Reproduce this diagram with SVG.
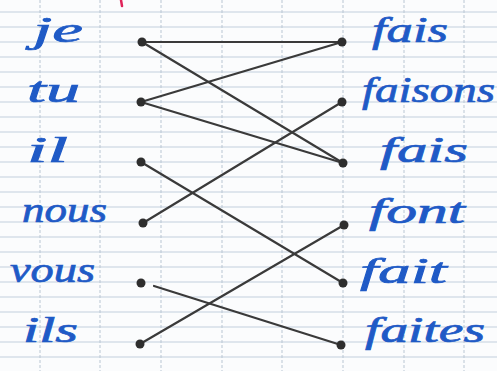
<svg xmlns="http://www.w3.org/2000/svg" width="497" height="371" viewBox="0 0 497 371">
<style>
.hl{stroke:#c2cfdd;stroke-width:1}
.vl{stroke:#b9c6d3;stroke-width:1;stroke-dasharray:3 2}
.w{font-family:"Liberation Serif",serif;font-style:italic;font-size:36px;fill:#1f5ac6;stroke:#1f5ac6;stroke-width:0.7}
.dot{fill:#2e2e2e}
.c{stroke:#3a3a3a;stroke-width:2.2;stroke-linecap:round;fill:none}
</style>
<rect width="497" height="371" fill="#fbfcfd"/>
<g id="paper">
<line class="hl" x1="0" y1="12" x2="497" y2="12"/>
<line class="hl" x1="0" y1="27" x2="497" y2="27"/>
<line class="hl" x1="0" y1="42" x2="497" y2="42"/>
<line class="hl" x1="0" y1="57" x2="497" y2="57"/>
<line class="hl" x1="0" y1="72" x2="497" y2="72"/>
<line class="hl" x1="0" y1="87" x2="497" y2="87"/>
<line class="hl" x1="0" y1="102" x2="497" y2="102"/>
<line class="hl" x1="0" y1="117" x2="497" y2="117"/>
<line class="hl" x1="0" y1="132" x2="497" y2="132"/>
<line class="hl" x1="0" y1="147" x2="497" y2="147"/>
<line class="hl" x1="0" y1="162" x2="497" y2="162"/>
<line class="hl" x1="0" y1="177" x2="497" y2="177"/>
<line class="hl" x1="0" y1="192" x2="497" y2="192"/>
<line class="hl" x1="0" y1="207" x2="497" y2="207"/>
<line class="hl" x1="0" y1="222" x2="497" y2="222"/>
<line class="hl" x1="0" y1="237" x2="497" y2="237"/>
<line class="hl" x1="0" y1="252" x2="497" y2="252"/>
<line class="hl" x1="0" y1="267" x2="497" y2="267"/>
<line class="hl" x1="0" y1="282" x2="497" y2="282"/>
<line class="hl" x1="0" y1="297" x2="497" y2="297"/>
<line class="hl" x1="0" y1="312" x2="497" y2="312"/>
<line class="hl" x1="0" y1="327" x2="497" y2="327"/>
<line class="hl" x1="0" y1="342" x2="497" y2="342"/>
<line class="hl" x1="0" y1="357" x2="497" y2="357"/>
<line class="vl" x1="40" y1="0" x2="40" y2="371"/>
<line class="vl" x1="100" y1="0" x2="100" y2="371"/>
<line class="vl" x1="161" y1="0" x2="161" y2="371"/>
<line class="vl" x1="222" y1="0" x2="222" y2="371"/>
<line class="vl" x1="282" y1="0" x2="282" y2="371"/>
<line class="vl" x1="343" y1="0" x2="343" y2="371"/>
<line class="vl" x1="404" y1="0" x2="404" y2="371"/>
<line class="vl" x1="464" y1="0" x2="464" y2="371"/>
<path d="M121 0 L122 6" stroke="#e0245a" stroke-width="2.5" stroke-linecap="round"/>
</g>
<g id="connectors">
<line class="c" x1="142" y1="42" x2="342" y2="42"/>
<line class="c" x1="142" y1="42" x2="343" y2="163"/>
<line class="c" x1="141" y1="102" x2="342" y2="42"/>
<line class="c" x1="141" y1="102" x2="343" y2="163"/>
<line class="c" x1="141" y1="162" x2="343" y2="283"/>
<line class="c" x1="143" y1="223" x2="342" y2="102"/>
<line class="c" x1="154" y1="286" x2="341" y2="345"/>
<line class="c" x1="140" y1="344" x2="344" y2="225"/>
</g>
<g id="je"><text class="w" x="33" y="42" textLength="50" lengthAdjust="spacingAndGlyphs">je</text><circle class="dot" cx="142" cy="42" r="4.5"/></g>
<g id="tu"><text class="w" x="27" y="102" textLength="53" lengthAdjust="spacingAndGlyphs">tu</text><circle class="dot" cx="141" cy="102" r="4.5"/></g>
<g id="il"><text class="w" x="27" y="162" textLength="41" lengthAdjust="spacingAndGlyphs">il</text><circle class="dot" cx="141" cy="162" r="4.5"/></g>
<g id="nous"><text class="w" x="22" y="222" textLength="85" lengthAdjust="spacingAndGlyphs">nous</text><circle class="dot" cx="143" cy="223" r="4.5"/></g>
<g id="vous"><text class="w" x="10" y="282" textLength="85" lengthAdjust="spacingAndGlyphs">vous</text><circle class="dot" cx="141" cy="283" r="4.5"/></g>
<g id="ils"><text class="w" x="23" y="342" textLength="55" lengthAdjust="spacingAndGlyphs">ils</text><circle class="dot" cx="140" cy="344" r="4.5"/></g>
<g id="fais1"><circle class="dot" cx="342" cy="42" r="4.5"/><text class="w" x="372" y="42" textLength="76" lengthAdjust="spacingAndGlyphs">fais</text></g>
<g id="faisons"><circle class="dot" cx="342" cy="102" r="4.5"/><text class="w" x="362" y="102" textLength="133" lengthAdjust="spacingAndGlyphs">faisons</text></g>
<g id="fais2"><circle class="dot" cx="343" cy="163" r="4.5"/><text class="w" x="380" y="162" textLength="88" lengthAdjust="spacingAndGlyphs">fais</text></g>
<g id="font"><circle class="dot" cx="344" cy="225" r="4.5"/><text class="w" x="369" y="223" textLength="96" lengthAdjust="spacingAndGlyphs">font</text></g>
<g id="fait"><circle class="dot" cx="343" cy="283" r="4.5"/><text class="w" x="360" y="283" textLength="87" lengthAdjust="spacingAndGlyphs">fait</text></g>
<g id="faites"><circle class="dot" cx="341" cy="345" r="4.5"/><text class="w" x="365" y="342" textLength="120" lengthAdjust="spacingAndGlyphs">faites</text></g>
</svg>
